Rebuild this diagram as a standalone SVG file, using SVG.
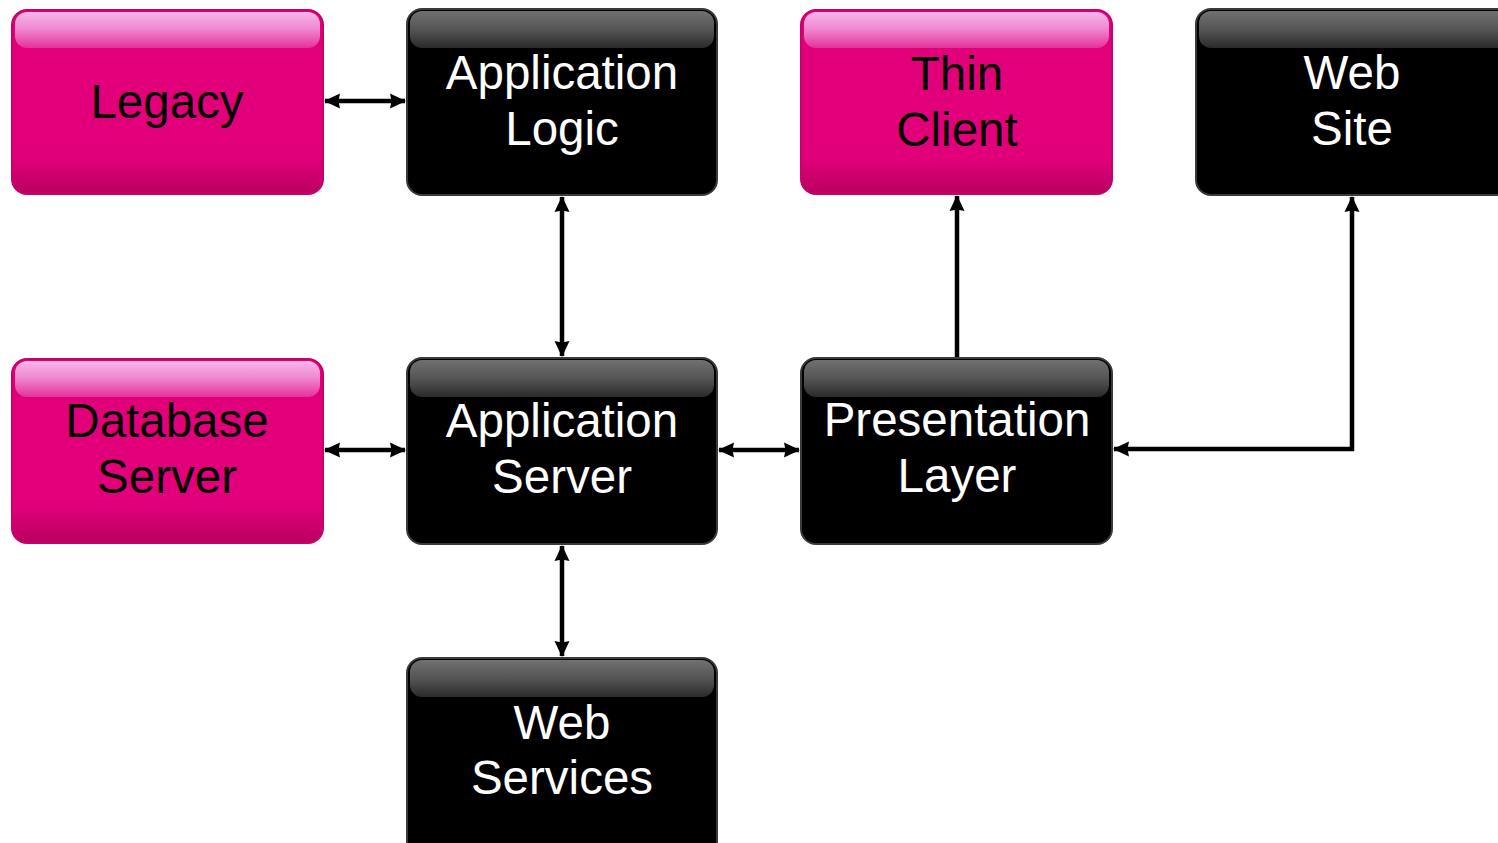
<svg xmlns="http://www.w3.org/2000/svg" width="1498" height="843" viewBox="0 0 1498 843">
  <defs>
    <!-- body fills -->
    <linearGradient id="pinkBody" x1="0" y1="0" x2="0" y2="1">
      <stop offset="0" stop-color="#e2007a"/>
      <stop offset="0.8" stop-color="#e2007a"/>
      <stop offset="1" stop-color="#b8005f"/>
    </linearGradient>
    <!-- glossy top bands -->
    <linearGradient id="pinkGloss" x1="0" y1="0" x2="0" y2="1">
      <stop offset="0" stop-color="#f7b6ea"/>
      <stop offset="0.45" stop-color="#f08ad2"/>
      <stop offset="1" stop-color="#e5329a"/>
    </linearGradient>
    <linearGradient id="blackGloss" x1="0" y1="0" x2="0" y2="1">
      <stop offset="0" stop-color="#707070"/>
      <stop offset="0.5" stop-color="#555"/>
      <stop offset="1" stop-color="#2a2a2a"/>
    </linearGradient>
    <marker id="arrow" viewBox="0 0 16 16" refX="15" refY="8" markerWidth="16" markerHeight="16" markerUnits="userSpaceOnUse" orient="auto-start-reverse">
      <path d="M0,0.5 L16,8 L0,15.5 L1.5,8 Z" fill="#000"/>
    </marker>
  </defs>
  <style>
    .pink .body { fill: url(#pinkBody); stroke: #c8006c; stroke-width: 2; }
    .pink .gloss { fill: url(#pinkGloss); }
    .pink text { fill: #000; }
    .dark .body { fill: #000; stroke: #3a3a3a; stroke-width: 2; }
    .dark .gloss { fill: url(#blackGloss); }
    .dark text { fill: #fff; }
    text { font-family: "Liberation Sans", Arial, sans-serif; font-size: 47.5px; text-anchor: middle; }
    .links path { fill: none; stroke: #000; stroke-width: 4.5; }
  </style>

  <rect width="1498" height="843" fill="#fff"/>

  <!-- connectors -->
  <g class="links" id="connectors">
    <path d="M325,101 H405" marker-start="url(#arrow)" marker-end="url(#arrow)"/>
    <path d="M325,450 H405" marker-start="url(#arrow)" marker-end="url(#arrow)"/>
    <path d="M562,197 V356" marker-start="url(#arrow)" marker-end="url(#arrow)"/>
    <path d="M562,546 V656" marker-start="url(#arrow)" marker-end="url(#arrow)"/>
    <path d="M719,450 H799" marker-start="url(#arrow)" marker-end="url(#arrow)"/>
    <path d="M957,358 V196" marker-end="url(#arrow)"/>
    <path d="M1114,449 H1352 V197" marker-start="url(#arrow)" marker-end="url(#arrow)"/>
  </g>

  <!-- nodes -->
  <g id="legacy" class="pink">
    <rect class="body" x="12" y="10" width="311" height="184" rx="15"/>
    <rect class="gloss" x="15" y="12" width="305" height="36" rx="12"/>
    <text x="167" y="118">Legacy</text>
  </g>

  <g id="application-logic" class="dark">
    <rect class="body" x="407" y="9" width="310" height="186" rx="15"/>
    <rect class="gloss" x="410" y="11" width="304" height="37" rx="12"/>
    <text x="562" y="89">Application</text>
    <text x="562" y="145">Logic</text>
  </g>

  <g id="thin-client" class="pink">
    <rect class="body" x="801" y="10" width="311" height="184" rx="15"/>
    <rect class="gloss" x="804" y="12" width="305" height="36" rx="12"/>
    <text x="957" y="90">Thin</text>
    <text x="957" y="146">Client</text>
  </g>

  <g id="web-site" class="dark">
    <rect class="body" x="1196" y="9" width="320" height="186" rx="15"/>
    <rect class="gloss" x="1199" y="11" width="314" height="37" rx="12"/>
    <text x="1352" y="89">Web</text>
    <text x="1352" y="145">Site</text>
  </g>

  <g id="database-server" class="pink">
    <rect class="body" x="12" y="359" width="311" height="184" rx="15"/>
    <rect class="gloss" x="15" y="361" width="305" height="36" rx="12"/>
    <text x="167" y="437">Database</text>
    <text x="167" y="493">Server</text>
  </g>

  <g id="application-server" class="dark">
    <rect class="body" x="407" y="358" width="310" height="186" rx="15"/>
    <rect class="gloss" x="410" y="360" width="304" height="37" rx="12"/>
    <text x="562" y="437">Application</text>
    <text x="562" y="493">Server</text>
  </g>

  <g id="presentation-layer" class="dark">
    <rect class="body" x="801" y="358" width="311" height="186" rx="15"/>
    <rect class="gloss" x="804" y="360" width="305" height="37" rx="12"/>
    <text x="957" y="436">Presentation</text>
    <text x="957" y="492">Layer</text>
  </g>

  <g id="web-services" class="dark">
    <rect class="body" x="407" y="658" width="310" height="200" rx="15"/>
    <rect class="gloss" x="410" y="660" width="304" height="37" rx="12"/>
    <text x="562" y="739">Web</text>
    <text x="562" y="794">Services</text>
  </g>
</svg>
